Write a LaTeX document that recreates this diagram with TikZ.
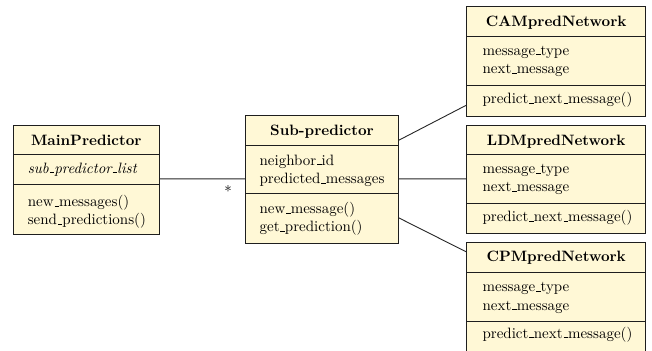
\documentclass[tikz,border=0pt]{standalone}
\usetikzlibrary{fit,calc,shadows}
\definecolor{clsfill}{RGB}{255,248,214}
\definecolor{clsdraw}{RGB}{30,30,30}
\makeatletter
\renewcommand{\_}{\leavevmode\kern.06em\vbox{\hrule\@width.3em}}
\makeatother
\tikzset{
  cls/.style={draw=clsdraw, fill=clsfill, line width=0.6pt, inner sep=0pt,
    drop shadow={shadow xshift=0.5pt, shadow yshift=-0.5pt, opacity=0.45, fill=black!60}},
  sep/.style={draw=clsdraw, line width=0.6pt},
  txt/.style={inner sep=0pt, anchor=base west, font=\fontsize{10}{12}\selectfont},
  ttl/.style={inner sep=0pt, anchor=base, font=\fontsize{10}{12}\selectfont\bfseries},
  link/.style={draw=black!85, line width=0.6pt}
}
\begin{document}
\begin{tikzpicture}[x=0.6667pt, y=-0.6667pt]
\useasboundingbox (0,0) rectangle (652,351);
\clip (0,0) rectangle (652,351);

% MainPredictor
\node[cls, fit={(13.3,125)(159.3,234)}] (main) {};
\draw[sep] ($(main.north west)+(0,30)$) -- ($(main.north east)+(0,30)$);
\draw[sep] ($(main.north west)+(0,60)$) -- ($(main.north east)+(0,60)$);
\node[ttl] (mt) at (86.3,145) {MainPredictor};
\node[txt] (ma) at (27.5,173) {\textit{sub\_predictor\_list}};
\node[txt] (mm1) at (27.5,206.7) {new\_messages()};
\node[txt] (mm2) at (27.5,224.5) {send\_predictions()};

% Sub-predictor
\node[cls, fit={(245.7,115)(398.3,243.3)}] (sub) {};
\draw[sep] ($(sub.north west)+(0,30.7)$) -- ($(sub.north east)+(0,30.7)$);
\draw[sep] ($(sub.north west)+(0,79.3)$) -- ($(sub.north east)+(0,79.3)$);
\node[ttl] (st) at (322,135) {Sub-predictor};
\node[txt] (sa1) at (259.3,165) {neighbor\_id};
\node[txt] (sa2) at (259.3,183.3) {predicted\_messages};
\node[txt] (sm1) at (259.3,213.3) {new\_message()};
\node[txt] (sm2) at (259.3,231.7) {get\_prediction()};

% CAMpredNetwork
\node[cls, fit={(466.7,6)(645.7,116)}] (cam) {};
\draw[sep] ($(cam.north west)+(0,31.3)$) -- ($(cam.north east)+(0,31.3)$);
\draw[sep] ($(cam.north west)+(0,80)$) -- ($(cam.north east)+(0,80)$);
\node[ttl] (ct) at (556.2,26) {CAMpredNetwork};
\node[txt] (ca1) at (482.3,55) {message\_type};
\node[txt] (ca2) at (482.3,73.3) {next\_message};
\node[txt] (cm1) at (482.3,103.3) {predict\_next\_message()};

% LDMpredNetwork
\node[cls, fit={(466.7,125.7)(645.7,233)}] (ldm) {};
\draw[sep] ($(ldm.north west)+(0,29.3)$) -- ($(ldm.north east)+(0,29.3)$);
\draw[sep] ($(ldm.north west)+(0,78.3)$) -- ($(ldm.north east)+(0,78.3)$);
\node[ttl] (lt) at (556.2,145) {LDMpredNetwork};
\node[txt] (la1) at (482.3,173.3) {message\_type};
\node[txt] (la2) at (482.3,191.7) {next\_message};
\node[txt] (lm1) at (482.3,221.7) {predict\_next\_message()};

% CPMpredNetwork
\node[cls, fit={(466.7,242.3)(645.7,356)}] (cpm) {};
\draw[sep] ($(cpm.north west)+(0,31)$) -- ($(cpm.north east)+(0,31)$);
\draw[sep] ($(cpm.north west)+(0,79.4)$) -- ($(cpm.north east)+(0,79.4)$);
\node[ttl] (pt) at (556.2,261.7) {CPMpredNetwork};
\node[txt] (pa1) at (482.3,291.7) {message\_type};
\node[txt] (pa2) at (482.3,310) {next\_message};
\node[txt] (pm1) at (482.3,338) {predict\_next\_message()};

% connectors
\draw[link] ($(main.north east)+(0,54.3)$) -- ($(sub.north west)+(0,64.3)$);
\node[inner sep=0pt, font=\fontsize{10}{12}\selectfont] (star) at (228,189) {$*$};
\draw[link] ($(sub.north east)+(0,25.7)$) -- ($(cam.north west)+(0,99.7)$);
\draw[link] ($(sub.north east)+(0,64.3)$) -- ($(ldm.north west)+(0,53.6)$);
\draw[link] ($(sub.north east)+(0,103.3)$) -- ($(cpm.north west)+(0,10)$);
\end{tikzpicture}
\end{document}
